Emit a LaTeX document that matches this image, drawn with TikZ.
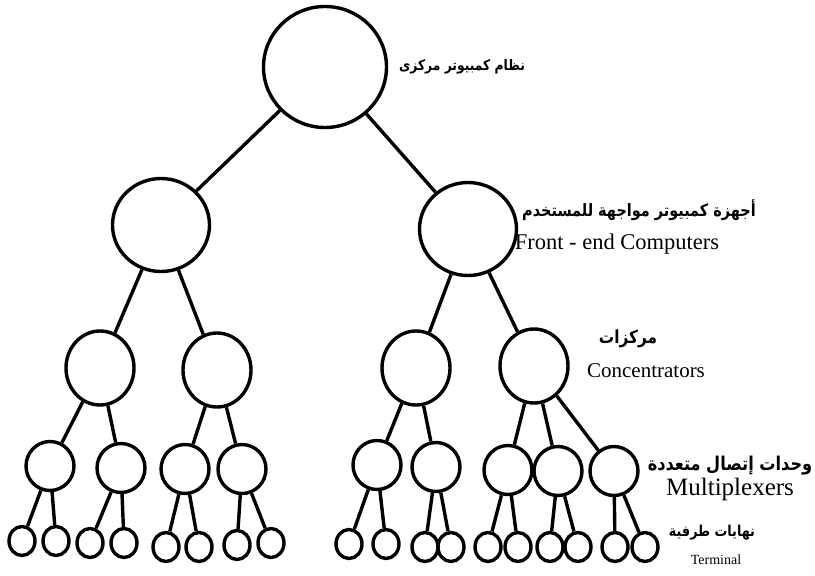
\documentclass[tikz,border=0pt]{standalone}
\usepackage{fontspec}
\setmainfont{Liberation Serif}
\newfontfamily\arabicfont[Script=Arabic,FakeStretch=0.85]{DejaVu Sans}
\TeXXeTstate=1
\usetikzlibrary{shapes.geometric}
\tikzset{tree node/.style={ellipse,draw,line width=3.4pt,inner sep=0pt},
         root node/.style={tree node,minimum width=123pt,minimum height=121pt},
         front node/.style={tree node,minimum width=97pt,minimum height=93pt},
         conc node/.style={tree node,minimum width=68pt,minimum height=74pt},
         mux node/.style={tree node,minimum width=48pt,minimum height=49pt},
         term node/.style={tree node,minimum width=26pt,minimum height=29pt},
         ar label/.style={font=\arabicfont\bfseries\fontsize{#1}{#1}\selectfont},
         en label/.style={font=\fontsize{#1}{#1}\selectfont},
            }

\begin{document}
\begin{tikzpicture}[x=1pt,y=-1pt]
    \useasboundingbox (0,0) rectangle (815,576);

    \node[root node] (r) at (325,67) {};
    \node[front node] (f1) at (161,225) {};
    \node[front node] (f2) at (468,229) {};

    \node[conc node] (c1) at (100,368) {};
    \node[conc node] (c2) at (217,370) {};
    \node[conc node] (c3) at (416,368) {};
    \node[conc node] (c4) at (534,366) {};

    \node[mux node] (m1) at (50,466) {};
    \node[mux node] (m2) at (121,468) {};
    \node[mux node] (m3) at (185,469) {};
    \node[mux node] (m4) at (242,469) {};
    \node[mux node] (m5) at (377,465) {};
    \node[mux node] (m6) at (436,467) {};
    \node[mux node] (m7) at (508,470) {};
    \node[mux node] (m8) at (558,471) {};
    \node[mux node] (m9) at (614,471) {};

    \node[term node] (t1) at (22,541) {};
    \node[term node] (t2) at (56,541) {};
    \node[term node] (t3) at (90,543) {};
    \node[term node] (t4) at (124,543) {};
    \node[term node] (t5) at (166,547) {};
    \node[term node] (t6) at (199,547) {};
    \node[term node] (t7) at (237,545) {};
    \node[term node] (t8) at (271,543) {};
    \node[term node] (t9) at (349,544) {};
    \node[term node] (t10) at (386,544) {};
    \node[term node] (t11) at (425,547) {};
    \node[term node] (t12) at (451,547) {};
    \node[term node] (t13) at (488,547) {};
    \node[term node] (t14) at (518,547) {};
    \node[term node] (t15) at (550,547) {};
    \node[term node] (t16) at (578,547) {};
    \node[term node] (t17) at (615,547) {};
    \node[term node] (t18) at (645,547) {};

    \path[draw,line width=3.4pt]
    (r) edge (f1)
    (r) edge (f2)
    (f1) edge (c1)
    (f1) edge (c2)
    (f2) edge (c3)
    (f2) edge (c4)
    (c1) edge (m1)
    (c1) edge (m2)
    (c2) edge (m3)
    (c2) edge (m4)
    (c3) edge (m5)
    (c3) edge (m6)
    (c4) edge (m7)
    (c4) edge (m8)
    (c4) edge (m9)
    (m1) edge (t1)
    (m1) edge (t2)
    (m2) edge (t3)
    (m2) edge (t4)
    (m3) edge (t5)
    (m3) edge (t6)
    (m4) edge (t7)
    (m4) edge (t8)
    (m5) edge (t9)
    (m5) edge (t10)
    (m6) edge (t11)
    (m6) edge (t12)
    (m7) edge (t13)
    (m7) edge (t14)
    (m8) edge (t15)
    (m8) edge (t16)
    (m9) edge (t17)
    (m9) edge (t18);

    % labels
    \node[ar label=14.5] (lroot) at (462,67) {\beginR نظام كمبيوتر مركزى\endR};
    \node[ar label=17] (lfront) at (639,210) {\beginR أجهزة كمبيوتر مواجهة للمستخدم\endR};
    \node[en label=22.5] (lfronten) at (617,244) {Front - end Computers};
    \node[ar label=18] (lconc) at (628,339) {\beginR مركزات\endR};
    \node[en label=21] (lconcen) at (646,371) {Concentrators};
    \node[ar label=19] (lmux) at (730,466) {\beginR وحدات إتصال متعددة\endR};
    \node[en label=25] (lmuxen) at (730,489) {Multiplexers};
    \node[ar label=15] (lterm) at (712,533) {\beginR نهايات طرفية\endR};
    \node[en label=14] (ltermen) at (716,560) {Terminal};

\end{tikzpicture}
\end{document}
